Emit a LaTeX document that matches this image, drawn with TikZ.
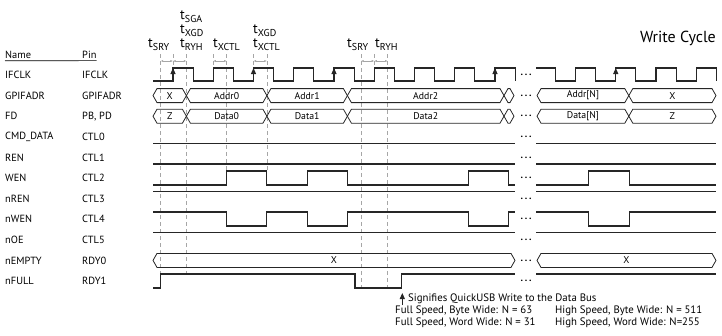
\documentclass[tikz,border=0pt]{standalone}
\usepackage{fontspec}
\setmainfont{PT Sans}
\usetikzlibrary{arrows.meta}
\definecolor{sigInk}{HTML}{262626}
\definecolor{guideGrey}{HTML}{a6a6a6}
\tikzset{
  sig/.style={draw=sigInk, line width=1.15pt},
  bus/.style={draw=sigInk, line width=0.8pt, line join=miter},
  guide/.style={draw=guideGrey, line width=0.8pt, dash pattern=on 4pt off 3pt},
  dimarrow/.style={draw=guideGrey, line width=0.6pt,
              {Latex[length=2.6pt,width=2.2pt]}-{Latex[length=2.6pt,width=2.2pt]}},
  clkarrow/.style={draw=sigInk, line width=1.1pt, -{Triangle[length=6pt,width=5pt]}},
  lbl/.style={font=\fontsize{10.4}{12}\selectfont, anchor=west, inner sep=0pt},
  buslbl/.style={font=\fontsize{9.8}{11}\selectfont, inner sep=0pt},
  tlbl/.style={font=\fontsize{14}{15}\selectfont, anchor=base west, inner sep=0pt},
  ellip/.style={font=\fontsize{10}{11}\selectfont\bfseries, inner sep=0pt},
  note/.style={font=\fontsize{10.8}{12}\selectfont, anchor=west, inner sep=0pt},
}
\newcommand{\tsym}[1]{t\raisebox{-3pt}{\fontsize{10}{10}\selectfont #1}}
% bus segment: name, from, to, centre y, text
\newcommand{\busseg}[5]{%
  \draw[bus] (#2,#4) -- ({#2+4},{#4-7}) -- ({#3-4},{#4-7}) -- (#3,#4)
    -- ({#3-4},{#4+7}) -- ({#2+4},{#4+7}) -- cycle;
  \node[buslbl] (#1) at ({(#2+#3)/2},#4) {#5};}

\begin{document}
\begin{tikzpicture}[x=1pt,y=-1pt]
  \useasboundingbox (0,0) rectangle (722,335);

  % header and row labels
  \node[lbl] (hname) at (5,55) {Name};
  \node[lbl] (hpin) at (82,55) {Pin};
  \draw[line width=0.6pt] ([yshift=-1.8pt]hname.south west) -- ([yshift=-1.8pt]hpin.south east);
  \foreach \nm/\pn [count=\r from 0] in {IFCLK/IFCLK, GPIFADR/GPIFADR, FD/{PB, PD},
      CMD\_DATA/CTL0, REN/CTL1, WEN/CTL2, nREN/CTL3, nWEN/CTL4, nOE/CTL5,
      nEMPTY/RDY0, nFULL/RDY1}{
    \node[lbl] (name\r) at (5,{75+20.6*\r}) {\nm};
    \node[lbl] (pin\r) at (82,{75+20.6*\r}) {\pn};
    \node[ellip] (gap\r) at (526,{75+20.6*\r}) {.\hspace{1.8pt}.\hspace{1.8pt}.};
  }
  \node[font=\fontsize{16}{17}\selectfont, anchor=east, inner sep=0pt] (title) at (716,38) {Write Cycle};

  % timing parameters
  \node[tlbl] (tsry) at (148,47) {\tsym{SRY}};
  \node[tlbl] (tsga) at (180,19) {\tsym{SGA}};
  \node[tlbl] (txgd) at (180,33) {\tsym{XGD}};
  \node[tlbl] (tryh) at (180,47) {\tsym{RYH}};
  \node[tlbl] (txctl) at (213,47) {\tsym{XCTL}};
  \node[tlbl] (txgdb) at (253,33) {\tsym{XGD}};
  \node[tlbl] (txctlb) at (253,47) {\tsym{XCTL}};
  \node[tlbl] (tsryb) at (347,47) {\tsym{SRY}};
  \node[tlbl] (tryhb) at (375,47) {\tsym{RYH}};

  % guide lines
  \foreach \x/\yb in {160.6/288, 186.4/274, 226.7/171, 266.9/171, 361/288, 387.7/288}
    \draw[guide] (\x,54) -- (\x,\yb);
  \foreach \x in {173, 213.25, 253.5, 374.25}
    \draw[guide] (\x,54) -- (\x,68);
  \foreach \a/\b in {160.6/173, 173/186.4, 213.25/226.7, 253.5/266.9, 361/374.25, 374.25/387.7}
    \draw[dimarrow] (\a,61) -- (\b,61);

  % IFCLK
  \draw[sig] (153,81) foreach \k in {0,...,8}{
      -- ({173+40.25*\k},81) -- ({173+40.25*\k},68)
      -- ({193.125+40.25*\k},68) -- ({193.125+40.25*\k},81)};
  \draw[sig] (536,68) -- (555.4,68) -- (555.4,81) foreach \k in {10,...,13}{
      -- ({173+40.25*\k},81) -- ({173+40.25*\k},68)
      -- ({193.125+40.25*\k},68) -- ({193.125+40.25*\k},81)};
  \foreach \k in {0,2,4,8,11}
    \draw[clkarrow] ({173+40.25*\k},77) -- ({173+40.25*\k},68);

  % GPIFADR
  \busseg{ga0}{153}{186.4}{95.6}{X}
  \busseg{ga1}{186.4}{266.9}{95.6}{Addr0}
  \busseg{ga2}{266.9}{347.4}{95.6}{Addr1}
  \busseg{ga3}{347.4}{504}{95.6}{Addr2}
  \busseg{ga4}{504}{514}{95.6}{}
  \busseg{ga5}{537}{628.8}{95.6}{Addr[N]}
  \busseg{ga6}{628.8}{716}{95.6}{X}

  % FD
  \busseg{fd0}{153}{186.4}{116.2}{Z}
  \busseg{fd1}{186.4}{266.9}{116.2}{Data0}
  \busseg{fd2}{266.9}{347.4}{116.2}{Data1}
  \busseg{fd3}{347.4}{504}{116.2}{Data2}
  \busseg{fd4}{504}{514}{116.2}{}
  \busseg{fd5}{537}{628.8}{116.2}{Data[N]}
  \busseg{fd6}{628.8}{716}{116.2}{Z}

  % steady control lines
  \foreach \y in {143.4, 164, 191.6, 232.8}{
    \draw[sig] (153,\y) -- (515,\y);
    \draw[sig] (536,\y) -- (716,\y);
  }

  % WEN
  \draw[sig] (153,185) -- (226.7,185) -- (226.7,171) -- (266.9,171) -- (266.9,185)
    -- (307.1,185) -- (307.1,171) -- (347.4,171) -- (347.4,185) -- (468.2,185)
    -- (468.2,171) -- (508.6,171) -- (508.6,185) -- (515,185);
  \draw[sig] (536,185) -- (588.9,185) -- (588.9,171) -- (629.2,171) -- (629.2,185) -- (716,185);

  % nWEN
  \draw[sig] (153,212) -- (226.7,212) -- (226.7,226) -- (266.9,226) -- (266.9,212)
    -- (307.1,212) -- (307.1,226) -- (347.4,226) -- (347.4,212) -- (468.2,212)
    -- (468.2,226) -- (508.6,226) -- (508.6,212) -- (515,212);
  \draw[sig] (536,212) -- (588.9,212) -- (588.9,226) -- (629.2,226) -- (629.2,212) -- (716,212);

  % nEMPTY
  \busseg{ne0}{153}{515}{260.4}{X}
  \busseg{ne1}{537}{716}{260.4}{X}

  % nFULL
  \draw[sig] (153,288) -- (160.6,288) -- (160.6,274) -- (355,274) -- (355,288)
    -- (401.7,288) -- (401.7,274) -- (515,274);
  \draw[sig] (536,274) -- (716,274);

  % legend
  \coordinate (wmark) at (402.3,305);
  \draw[clkarrow] (wmark) -- ++(0,-12);
  \node[note] (nsig) at (408,299) {Signifies QuickUSB Write to the Data Bus};
  \node[note] (nfb) at (395,311) {Full Speed, Byte Wide: N = 63};
  \node[note] (nfw) at (395,323) {Full Speed, Word Wide: N = 31};
  \node[note] (nhb) at (555,311) {High Speed, Byte Wide: N = 511};
  \node[note] (nhw) at (555,323) {High Speed, Word Wide: N=255};
\end{tikzpicture}
\end{document}
